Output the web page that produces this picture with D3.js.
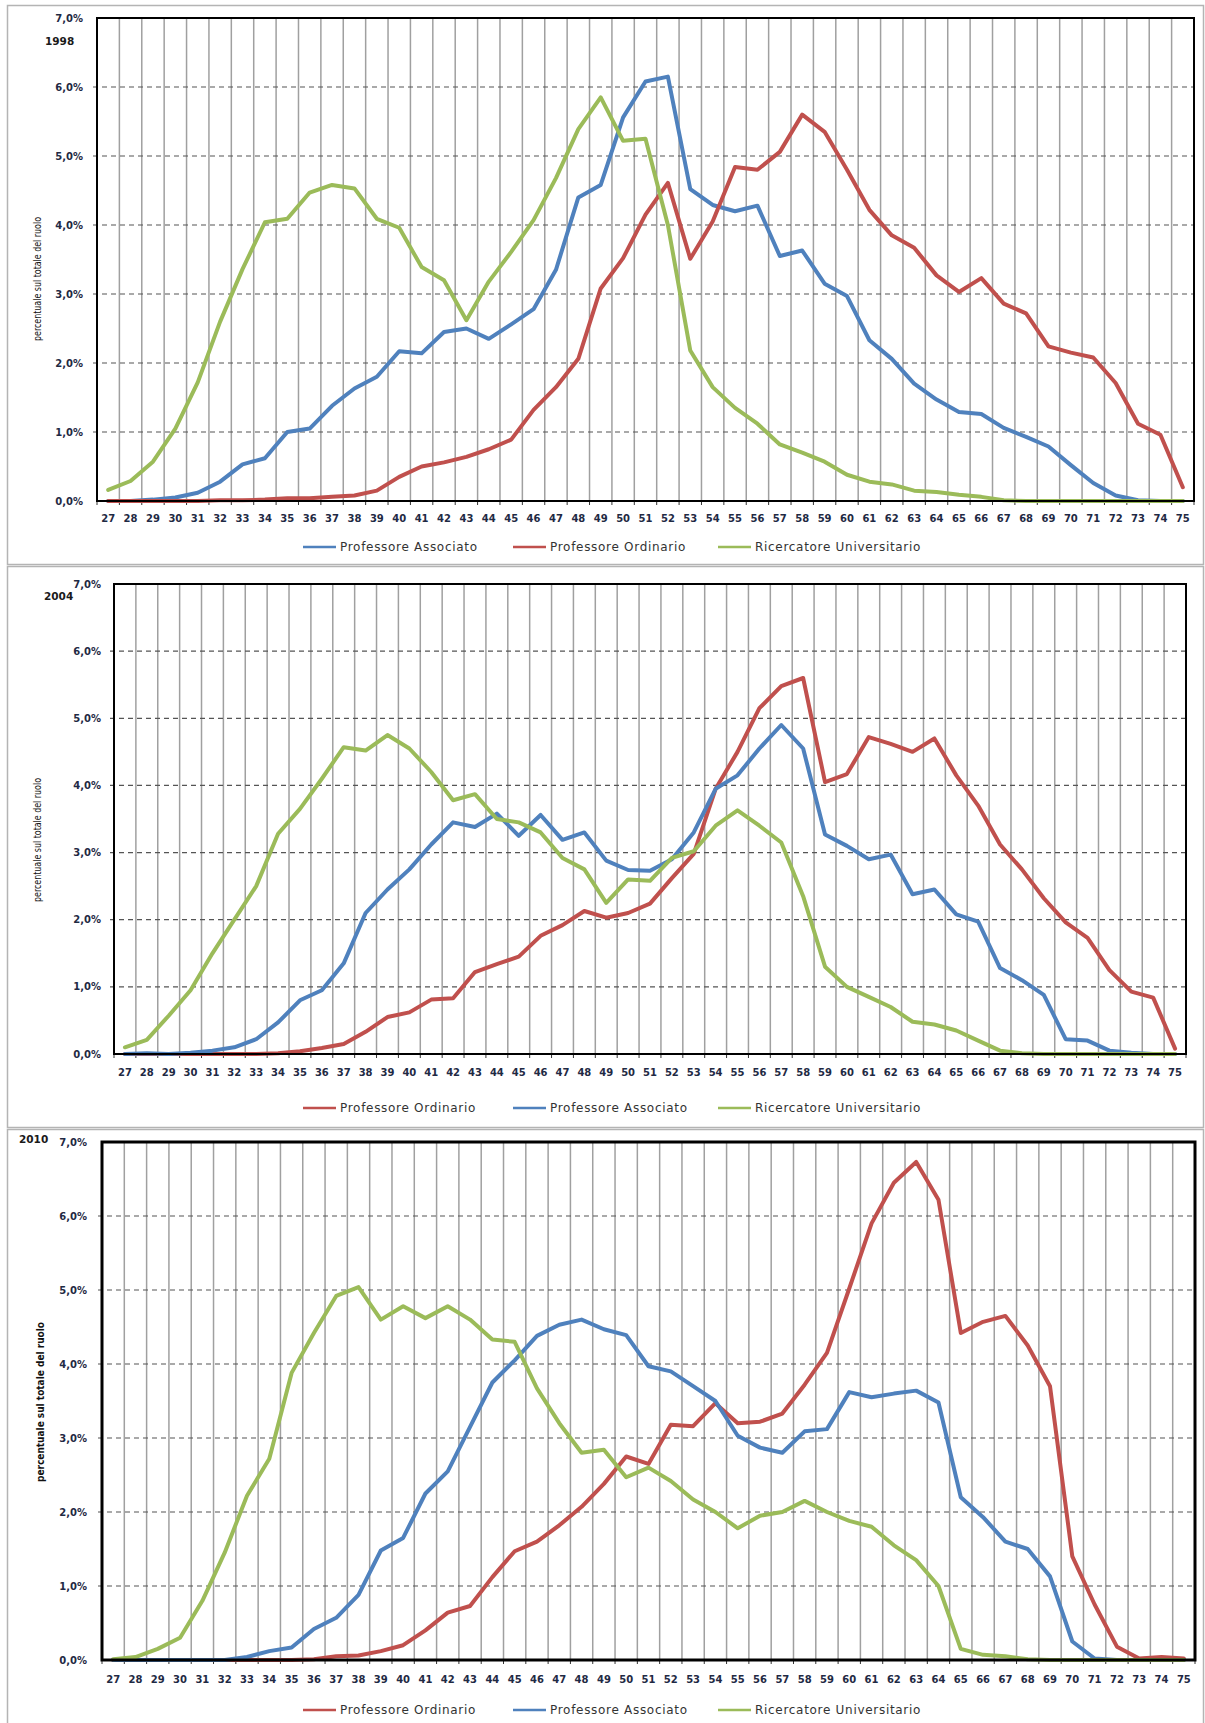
<!DOCTYPE html>
<html>
<head>
<meta charset="utf-8">
<script src="https://cdn.jsdelivr.net/npm/d3@7"></script>
<style>
  body { margin: 0; background: #fff; }
  svg { display: block; }
</style>
</head>
<body>
<svg id="chart" width="1205" height="1723"></svg>
<script>
// età (categorie)
const ages = [27, 28, 29, 30, 31, 32, 33, 34, 35, 36, 37, 38, 39, 40, 41, 42, 43, 44, 45, 46, 47, 48, 49, 50,
  51, 52, 53, 54, 55, 56, 57, 58, 59, 60, 61, 62, 63, 64, 65, 66, 67, 68, 69, 70, 71, 72, 73, 74, 75];
const yTicks = [0, 1, 2, 3, 4, 5, 6, 7];

// 1998
const ass1998 = [0, 0, 0.02, 0.05, 0.12, 0.28, 0.53, 0.62, 1.0, 1.05, 1.38, 1.63, 1.8, 2.17, 2.14, 2.45, 2.5, 2.35, 2.56, 2.78,
  3.35, 4.4, 4.58, 5.56, 6.08, 6.15, 4.52, 4.29, 4.2, 4.28, 3.55, 3.63, 3.15, 2.97, 2.33, 2.06, 1.7, 1.47, 1.29, 1.26,
  1.06, 0.93, 0.79, 0.52, 0.26, 0.08, 0.01, 0, 0];
const ord1998 = [0, 0, 0, 0, 0, 0.01, 0.01, 0.02, 0.04, 0.04, 0.06, 0.08, 0.15, 0.35, 0.5, 0.56, 0.64, 0.75, 0.89, 1.32,
  1.65, 2.06, 3.08, 3.52, 4.15, 4.61, 3.51, 4.05, 4.84, 4.8, 5.06, 5.6, 5.35, 4.8, 4.22, 3.85, 3.67, 3.27, 3.03, 3.23,
  2.86, 2.72, 2.24, 2.15, 2.08, 1.71, 1.12, 0.96, 0.2];
const ric1998 = [0.16, 0.29, 0.57, 1.05, 1.72, 2.6, 3.36, 4.04, 4.09, 4.47, 4.58, 4.53, 4.09, 3.96, 3.39, 3.2, 2.62, 3.18,
  3.61, 4.07, 4.68, 5.39, 5.85, 5.22, 5.25, 4.0, 2.18, 1.65, 1.35, 1.12, 0.82, 0.7, 0.57, 0.38, 0.28, 0.24, 0.15, 0.13,
  0.09, 0.06, 0.01, 0, 0, 0, 0, 0, 0, 0, 0];

// 2004
const ord2004 = [0, 0, 0, 0, 0, 0, 0, 0.01, 0.04, 0.09, 0.15, 0.33, 0.55, 0.62, 0.81, 0.83, 1.22, 1.34, 1.45, 1.76,
  1.92, 2.13, 2.03, 2.1, 2.24, 2.62, 2.98, 3.95, 4.5, 5.15, 5.48, 5.6, 4.05, 4.17, 4.72, 4.62, 4.5, 4.7, 4.15, 3.7,
  3.12, 2.75, 2.32, 1.96, 1.73, 1.25, 0.93, 0.84, 0.08];
const ass2004 = [0, 0.01, 0, 0.02, 0.05, 0.1, 0.22, 0.47, 0.8, 0.95, 1.35, 2.1, 2.45, 2.75, 3.12, 3.45, 3.38, 3.58, 3.25,
  3.56, 3.19, 3.3, 2.88, 2.74, 2.73, 2.9, 3.3, 3.95, 4.15, 4.55, 4.9, 4.55, 3.27, 3.1, 2.9, 2.97, 2.38, 2.45, 2.08, 1.97,
  1.28, 1.1, 0.88, 0.22, 0.2, 0.05, 0.02, 0, 0];
const ric2004 = [0.1, 0.21, 0.57, 0.95, 1.5, 2.0, 2.5, 3.28, 3.65, 4.1, 4.57, 4.52, 4.75, 4.55, 4.2, 3.78, 3.87, 3.5, 3.45,
  3.3, 2.92, 2.75, 2.25, 2.6, 2.58, 2.92, 3.02, 3.4, 3.63, 3.4, 3.15, 2.35, 1.3, 1.0, 0.85, 0.7, 0.48, 0.44, 0.35, 0.2,
  0.05, 0.01, 0, 0, 0, 0, 0, 0, 0];

// 2010
const ord2010 = [0, 0, 0, 0, 0, 0, 0, 0, 0, 0.01, 0.05, 0.06, 0.12, 0.2, 0.4, 0.64, 0.73, 1.12, 1.47, 1.6, 1.82, 2.07,
  2.38, 2.75, 2.65, 3.18, 3.16, 3.47, 3.2, 3.22, 3.33, 3.72, 4.15, 5.02, 5.9, 6.45, 6.73, 6.22, 4.42, 4.57, 4.65, 4.25,
  3.7, 1.4, 0.75, 0.18, 0.02, 0.04, 0.02];
const ass2010 = [0, 0, 0, 0, 0, 0, 0.04, 0.12, 0.17, 0.42, 0.57, 0.88, 1.48, 1.65, 2.25, 2.55, 3.15, 3.75, 4.05, 4.38,
  4.53, 4.6, 4.47, 4.39, 3.97, 3.9, 3.7, 3.5, 3.03, 2.87, 2.8, 3.09, 3.12, 3.62, 3.55, 3.6, 3.64, 3.48, 2.2, 1.93, 1.6,
  1.5, 1.13, 0.25, 0.02, 0, 0, 0, 0];
const ric2010 = [0.01, 0.04, 0.15, 0.3, 0.8, 1.45, 2.22, 2.72, 3.88, 4.42, 4.92, 5.04, 4.6, 4.78, 4.62, 4.78, 4.6, 4.33,
  4.3, 3.67, 3.2, 2.8, 2.84, 2.47, 2.6, 2.42, 2.17, 2.0, 1.78, 1.95, 2.0, 2.15, 2.0, 1.88, 1.8, 1.55, 1.35, 1.0, 0.15,
  0.07, 0.05, 0.01, 0, 0, 0, 0, 0, 0, 0];

const NAMES = { ord: 'Professore Ordinario', ass: 'Professore Associato', ric: 'Ricercatore Universitario' };
const COLORS = { ord: '#c0504d', ass: '#4f81bd', ric: '#9bbb59' };

const panels = [
  { year: '1998', series: { ass: ass1998, ord: ord1998, ric: ric1998 }, order: ['ass', 'ord', 'ric'],
    box: [7, 5, 1203, 564], plot: { l: 97, r: 1194, t: 18, b: 501 }, yLabelX: 83, yearXY: [45, 45],
    title: { x: 37, y: 279, len: 124, size: 10, bold: false }, xLabelY: 522, legendY: 547, frame: 2 },
  { year: '2004', series: { ord: ord2004, ass: ass2004, ric: ric2004 }, order: ['ord', 'ass', 'ric'],
    box: [7, 566, 1203, 1127], plot: { l: 114, r: 1186, t: 584, b: 1054 }, yLabelX: 101, yearXY: [44, 600],
    title: { x: 37, y: 840, len: 124, size: 10, bold: false }, xLabelY: 1076, legendY: 1108, frame: 2 },
  { year: '2010', series: { ord: ord2010, ass: ass2010, ric: ric2010 }, order: ['ord', 'ass', 'ric'],
    box: [7, 1129, 1203, 1730], plot: { l: 102, r: 1195, t: 1142, b: 1660 }, yLabelX: 87, yearXY: [19, 1143],
    title: { x: 40, y: 1402, len: 160, size: 11, bold: true }, xLabelY: 1683, legendY: 1710, frame: 3 }
];

const svg = d3.select('#chart');
const fmt = d => d3.format('.1f')(d).replace('.', ',') + '%';
const FONT = '"DejaVu Sans", Verdana, sans-serif';

panels.forEach(p => {
  const g = svg.append('g');
  const x = d3.scaleBand().domain(ages).range([p.plot.l, p.plot.r]).paddingInner(0).paddingOuter(0);
  const y = d3.scaleLinear().domain([0, 7]).range([p.plot.b, p.plot.t]);
  const cx = a => x(a) + x.bandwidth() / 2;

  // cornice del pannello
  g.append('rect')
    .attr('x', p.box[0] + 0.5).attr('y', p.box[1] + 0.5)
    .attr('width', p.box[2] - p.box[0]).attr('height', p.box[3] - p.box[1])
    .attr('fill', 'none').attr('stroke', '#b4b4b4').attr('stroke-width', 1.5);

  // griglia verticale (confini di categoria)
  const bounds = ages.slice(1).map(a => x(a));
  g.append('g').selectAll('line').data(bounds).join('line')
    .attr('x1', d => d).attr('x2', d => d)
    .attr('y1', p.plot.t).attr('y2', p.plot.b)
    .attr('stroke', '#a0a0a0').attr('stroke-width', 1.5);

  // griglia orizzontale tratteggiata
  g.append('g').selectAll('line').data(yTicks.filter(t => t > 0 && t < 7)).join('line')
    .attr('x1', p.plot.l - 4).attr('x2', p.plot.r)
    .attr('y1', d => y(d)).attr('y2', d => y(d))
    .attr('stroke', '#555').attr('stroke-width', 1.2).attr('stroke-dasharray', '5,4');

  // tacche asse x
  g.append('g').selectAll('line').data([p.plot.l, ...bounds, p.plot.r]).join('line')
    .attr('x1', d => d).attr('x2', d => d)
    .attr('y1', p.plot.b).attr('y2', p.plot.b + 4)
    .attr('stroke', '#333').attr('stroke-width', 1);

  // etichette asse y
  g.append('g').selectAll('text').data(yTicks).join('text')
    .attr('x', p.yLabelX).attr('y', d => y(d)).attr('dy', '0.35em')
    .attr('text-anchor', 'end')
    .style('font', `bold 10px ${FONT}`).attr('fill', '#1f2a44')
    .text(fmt);

  // etichette asse x
  g.append('g').selectAll('text').data(ages).join('text')
    .attr('x', cx).attr('y', p.xLabelY)
    .attr('text-anchor', 'middle')
    .style('font', `bold 10px ${FONT}`).attr('fill', '#1f2a44')
    .text(d => d);

  // anno
  g.append('text').attr('x', p.yearXY[0]).attr('y', p.yearXY[1])
    .style('font', `bold 10.5px ${FONT}`).attr('fill', '#1a1a1a')
    .text(p.year);

  // titolo asse y
  g.append('text')
    .attr('transform', `translate(${p.title.x},${p.title.y}) rotate(-90)`)
    .attr('text-anchor', 'middle').attr('dy', '0.35em')
    .attr('textLength', p.title.len).attr('lengthAdjust', 'spacingAndGlyphs')
    .style('font', `${p.title.bold ? 'bold ' : ''}${p.title.size}px ${FONT}`).attr('fill', '#111')
    .text('percentuale sul totale del ruolo');

  // serie
  const line = d3.line().x((d, i) => cx(ages[i])).y(d => y(d));
  p.order.forEach(k => {
    g.append('path').datum(p.series[k])
      .attr('d', line)
      .attr('fill', 'none').attr('stroke', COLORS[k])
      .attr('stroke-width', 4).attr('stroke-linejoin', 'round').attr('stroke-linecap', 'round');
  });

  // cornice area del grafico
  g.append('rect')
    .attr('x', p.plot.l).attr('y', p.plot.t)
    .attr('width', p.plot.r - p.plot.l).attr('height', p.plot.b - p.plot.t)
    .attr('fill', 'none').attr('stroke', '#000').attr('stroke-width', p.frame);

  // legenda
  const legX = [303, 513, 718];
  const leg = g.append('g').selectAll('g').data(p.order).join('g')
    .attr('transform', (d, i) => `translate(${legX[i]},${p.legendY})`);
  leg.append('line').attr('x1', 0).attr('x2', 33).attr('y1', 0).attr('y2', 0)
    .attr('stroke', d => COLORS[d]).attr('stroke-width', 2.5);
  leg.append('text').attr('x', 37).attr('dy', '0.35em')
    .style('font', `12px ${FONT}`).style('letter-spacing', '0.7px').attr('fill', '#333')
    .text(d => NAMES[d]);
});
</script>
</body>
</html>
